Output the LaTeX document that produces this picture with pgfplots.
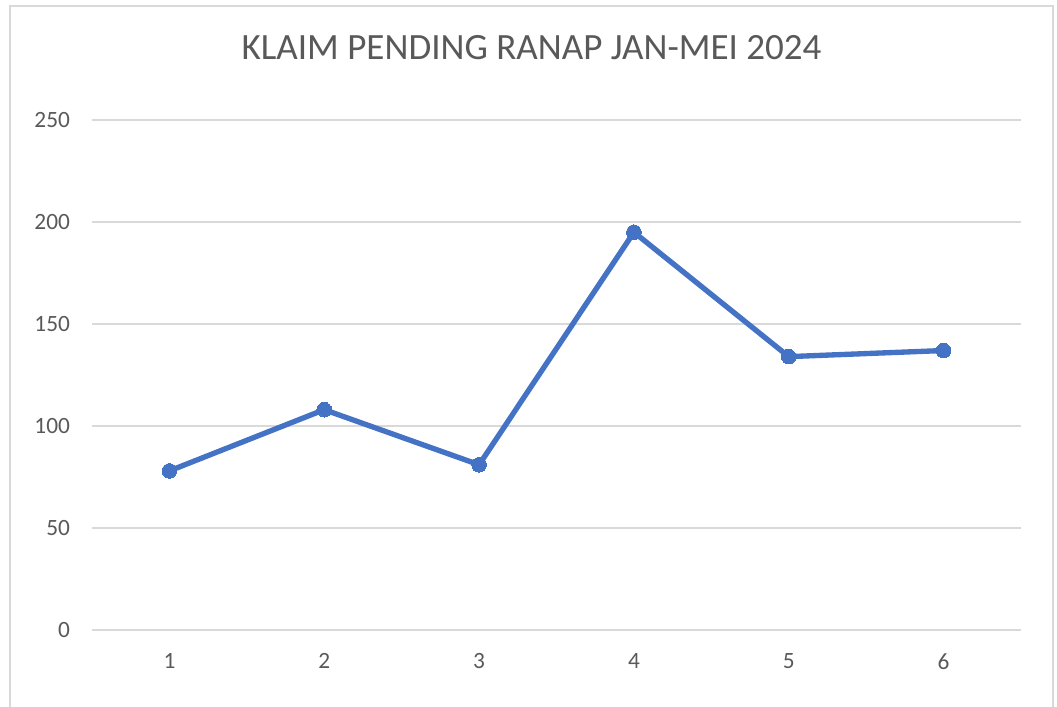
\documentclass[border=0pt]{standalone}
\usepackage{fontspec}
\setmainfont{Carlito}
\usepackage{pgfplots}
\pgfplotsset{compat=1.18}
\definecolor{excelblue}{HTML}{4472C4}
\definecolor{gridgray}{HTML}{D9D9D9}
\definecolor{textgray}{HTML}{595959}
\begin{document}
\begin{tikzpicture}
\useasboundingbox (0pt,0pt) rectangle (792.75pt,530.25pt);
\draw[gridgray,line width=1.5pt] (7.5pt,-5pt) -- (7.5pt,525.75pt) -- (789.75pt,525.75pt) -- (789.75pt,-5pt);
\node[text=textgray,font=\fontsize{27.8}{32}\selectfont] at (398.6pt,494.25pt) {KLAIM PENDING RANAP JAN-MEI 2024};
\begin{axis}[
  at={(69pt,57.75pt)}, anchor=south west,
  scale only axis,
  width=696.75pt, height=382.5pt,
  xmin=0.5, xmax=6.5, ymin=0, ymax=250,
  xtick={1,2,3,4,5,6},
  ytick={0,50,100,150,200,250},
  axis line style={draw=none},
  major tick style={draw=none},
  ymajorgrids,
  grid style={gridgray,line width=1pt},
  ticklabel style={text=textgray,font=\fontsize{17.5}{20}\selectfont},
  /pgf/number format/assume math mode=true,
  xticklabel style={yshift=-14pt},
  yticklabel style={xshift=-13pt},
  clip=false,
]
\addplot[excelblue,line width=4pt,mark=*,mark size=5.5pt,mark options={fill=excelblue,draw=excelblue,line width=0pt}]
  coordinates {(1,78) (2,108) (3,81) (4,195) (5,134) (6,137)};
\end{axis}
\end{tikzpicture}
\end{document}
